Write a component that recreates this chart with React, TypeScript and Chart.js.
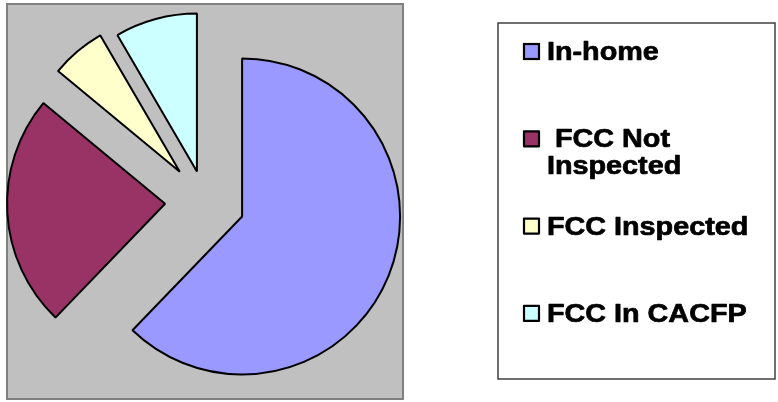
import React, { useEffect, useRef } from 'react';
import { Chart, registerables } from 'chart.js';

Chart.register(...registerables);

// ---- data ----
const categories = ['In-home', ' FCC Not Inspected', 'FCC Inspected', 'FCC In CACFP'];
const shares = [62.2, 23.8, 5.6, 8.4];
const sliceColors = ['#9999FF', '#993366', '#FFFFCC', '#CCFFFF'];

// ---- layout / style ----
const W = 778;
const H = 402;
const PIE_RADIUS = 158;
const EXPLODE = [40, 40, 39, 31]; // translation of each slice, px
const PLOT = { left: 7, top: 4, right: 403, bottom: 399 };
const LEGEND_BOX = { left: 498, top: 23, right: 775, bottom: 379 };
const LEGEND = {
  swatchX: 524,
  swatchSize: 15,
  textX: 547,
  firstBaseline: 60,
  step: 87.3,
  lineHeight: 27,
  fontSize: 25,
  stretch: 1.15,
};

// Chart.js v4 enlarges/trims exploded arcs; keep every slice at the same radius and its true angle.
const explodeFix = {
  id: 'explodeFix',
  afterDatasetsUpdate(chart: any) {
    const meta = chart.getDatasetMeta(0);
    meta.data.forEach((arc: any, i: number) => {
      const off = EXPLODE[i];
      const circ = arc.circumference;
      const fix = 1 - Math.sin(Math.min(Math.PI, circ || 0));
      const ro = off * fix;
      arc.outerRadius = PIE_RADIUS - ro;
      const half = ro / (Math.PI * PIE_RADIUS) / 2;
      arc.startAngle -= half;
      arc.endAngle += half;
    });
  },
};

const plotBackground = {
  id: 'plotBackground',
  beforeDraw(chart: any) {
    const { ctx, chartArea } = chart;
    ctx.save();
    ctx.fillStyle = '#FFFFFF';
    ctx.fillRect(0, 0, chart.width, chart.height);
    ctx.fillStyle = '#C0C0C0';
    ctx.fillRect(chartArea.left, chartArea.top, chartArea.right - chartArea.left, chartArea.bottom - chartArea.top);
    ctx.strokeStyle = '#808080';
    ctx.lineWidth = 2;
    ctx.strokeRect(chartArea.left, chartArea.top, chartArea.right - chartArea.left, chartArea.bottom - chartArea.top);
    ctx.restore();
  },
};

function wrapText(ctx: CanvasRenderingContext2D, text: string, maxW: number, k: number): string[] {
  const tokens = text.match(/\s*\S+/g) || [text];
  const lines: string[] = [];
  let cur = '';
  tokens.forEach((tok) => {
    const test = cur + tok;
    if (cur !== '' && ctx.measureText(test).width * k > maxW) {
      lines.push(cur);
      cur = tok.replace(/^\s+/, '');
    } else {
      cur = test;
    }
  });
  if (cur) lines.push(cur);
  return lines;
}

const boxLegend = {
  id: 'boxLegend',
  afterDraw(chart: any) {
    const { ctx } = chart;
    const labels: string[] = chart.data.labels;
    const colors: string[] = chart.data.datasets[0].backgroundColor;
    ctx.save();
    ctx.fillStyle = '#FFFFFF';
    ctx.fillRect(LEGEND_BOX.left, LEGEND_BOX.top, LEGEND_BOX.right - LEGEND_BOX.left, LEGEND_BOX.bottom - LEGEND_BOX.top);
    ctx.strokeStyle = '#404040';
    ctx.lineWidth = 1.5;
    ctx.strokeRect(LEGEND_BOX.left, LEGEND_BOX.top, LEGEND_BOX.right - LEGEND_BOX.left, LEGEND_BOX.bottom - LEGEND_BOX.top);

    ctx.font = `bold ${LEGEND.fontSize}px "Liberation Sans", Arial, sans-serif`;
    ctx.textBaseline = 'alphabetic';
    ctx.textAlign = 'left';
    const maxW = LEGEND_BOX.right - 6 - LEGEND.textX;
    labels.forEach((label, i) => {
      const base = LEGEND.firstBaseline + i * LEGEND.step;
      const s = LEGEND.swatchSize;
      ctx.fillStyle = colors[i];
      ctx.fillRect(LEGEND.swatchX, base - s - 1, s, s);
      ctx.strokeStyle = '#000000';
      ctx.lineWidth = 2.2;
      ctx.strokeRect(LEGEND.swatchX, base - s - 1, s, s);
      const lines = wrapText(ctx, label, maxW, LEGEND.stretch);
      ctx.fillStyle = '#000000';
      ctx.strokeStyle = '#000000';
      ctx.lineWidth = 0.7;
      ctx.lineJoin = 'round';
      lines.forEach((line, j) => {
        ctx.save();
        ctx.translate(LEGEND.textX, base + j * LEGEND.lineHeight);
        ctx.scale(LEGEND.stretch, 1);
        ctx.fillText(line, 0, 0);
        ctx.strokeText(line, 0, 0);
        ctx.restore();
      });
    });
    ctx.restore();
  },
};

export default function App() {
  const canvasRef = useRef<HTMLCanvasElement | null>(null);

  useEffect(() => {
    if (!canvasRef.current) return;
    const chart = new Chart(canvasRef.current, {
      type: 'pie',
      data: {
        labels: categories,
        datasets: [
          {
            data: shares,
            backgroundColor: sliceColors,
            borderColor: '#000000',
            borderWidth: 2,
            offset: EXPLODE.map((d) => d * 4),
            hoverOffset: 0,
          },
        ],
      },
      options: {
        responsive: false,
        animation: false,
        events: [],
        radius: PIE_RADIUS,
        layout: {
          padding: {
            left: PLOT.left,
            top: PLOT.top,
            right: W - PLOT.right,
            bottom: H - PLOT.bottom,
          },
        },
        plugins: {
          legend: { display: false },
          tooltip: { enabled: false },
        },
      } as any,
      plugins: [explodeFix, plotBackground, boxLegend],
    });
    return () => chart.destroy();
  }, []);

  return (
    <div style={{ position: 'fixed', left: 0, top: 0, width: W, height: H, background: '#FFFFFF' }}>
      <canvas ref={canvasRef} width={W} height={H} style={{ width: W, height: H, display: 'block' }} />
    </div>
  );
}
